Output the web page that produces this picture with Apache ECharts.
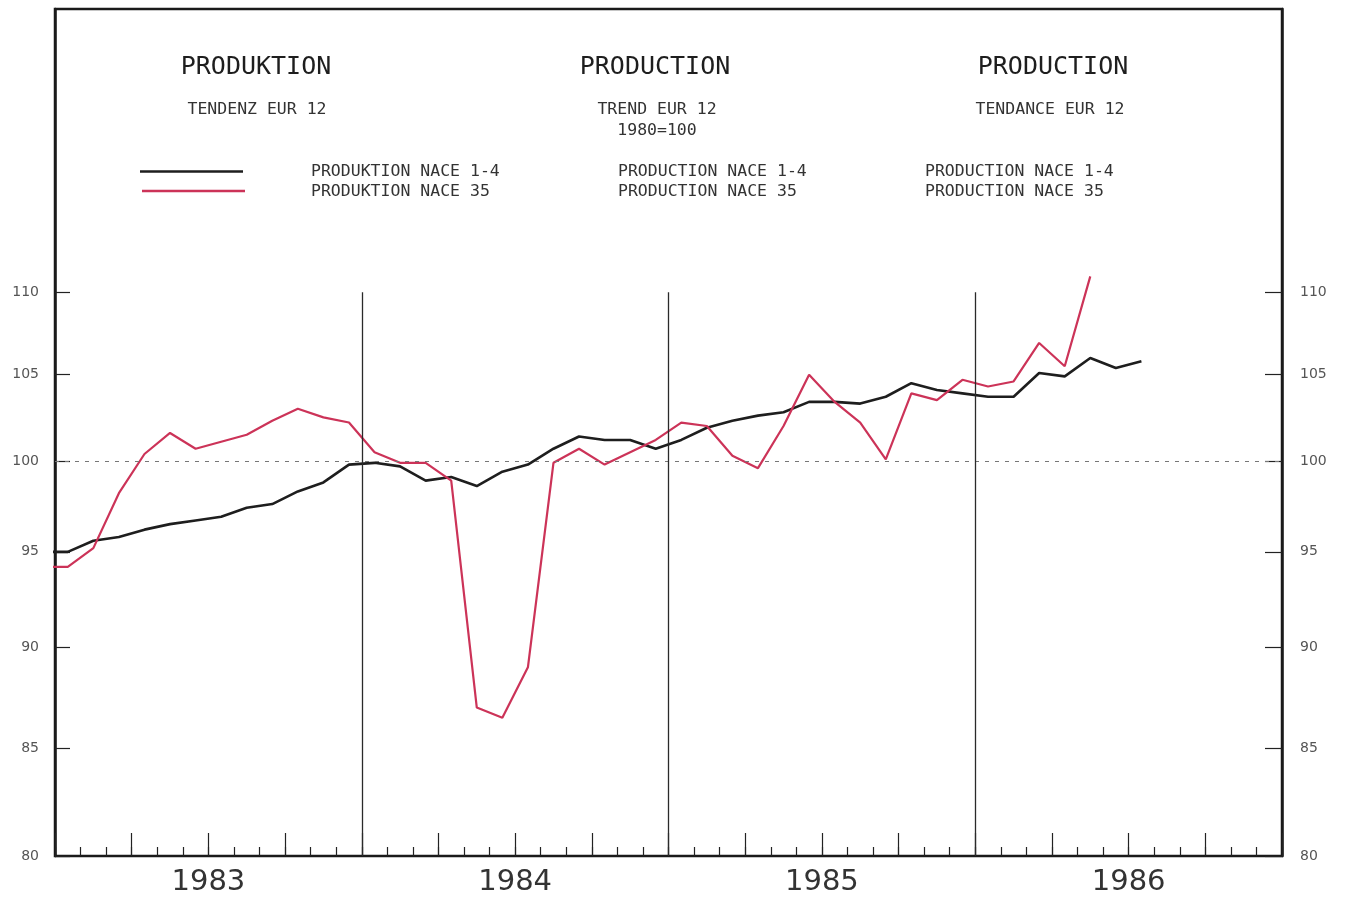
<!DOCTYPE html>
<html>
<head>
<meta charset="utf-8">
<title>Produktion / Production / Production</title>
<script src="https://cdn.jsdelivr.net/npm/echarts@6/dist/echarts.min.js"></script>
<style>
  html, body { margin: 0; padding: 0; background: #ffffff; }
  #chart { width: 1345px; height: 899px; }
</style>
</head>
<body>
<div id="chart"></div>
<script>
// Monthly observations (Dec 1982 only anchors the start of the curves at the left edge)
const months = [
  '1982-12',
  '1983-01','1983-02','1983-03','1983-04','1983-05','1983-06','1983-07','1983-08','1983-09','1983-10','1983-11','1983-12',
  '1984-01','1984-02','1984-03','1984-04','1984-05','1984-06','1984-07','1984-08','1984-09','1984-10','1984-11','1984-12',
  '1985-01','1985-02','1985-03','1985-04','1985-05','1985-06','1985-07','1985-08','1985-09','1985-10','1985-11','1985-12',
  '1986-01','1986-02','1986-03','1986-04','1986-05','1986-06','1986-07'
];

// Production NACE 1-4, trend, EUR 12, 1980 = 100
const nace14 = [
  95.0,
  95.0, 95.6, 95.8, 96.2, 96.5, 96.7, 96.9, 97.4, 97.6, 98.3, 98.8, 99.8,
  99.9, 99.7, 98.9, 99.1, 98.6, 99.4, 99.8, 100.7, 101.4, 101.2, 101.2, 100.7,
  101.2, 101.9, 102.3, 102.6, 102.8, 103.4, 103.4, 103.3, 103.7, 104.5, 104.1, 103.9,
  103.7, 103.7, 105.1, 104.9, 106.0, 105.4, 105.8
];

// Production NACE 35, trend, EUR 12, 1980 = 100
const nace35 = [
  94.2,
  94.2, 95.2, 98.2, 100.4, 101.6, 100.7, 101.1, 101.5, 102.3, 103.0, 102.5, 102.2,
  100.5, 99.9, 99.9, 98.9, 87.0, 86.5, 89.0, 99.9, 100.7, 99.8, 100.5, 101.2,
  102.2, 102.0, 100.3, 99.6, 102.0, 105.0, 103.4, 102.2, 100.1, 103.9, 103.5, 104.7,
  104.3, 104.6, 106.9, 105.5, 111.0
];

const years = ['1983', '1984', '1985', '1986'];
const yTicks = [80, 85, 90, 95, 100, 105, 110];
const yBottom = 80;
const yTop = 129.1;      // upper edge of the plotting frame
const baseLevel = 100;   // 1980 = 100

const BLACK = '#1e1e1e';
const RED = '#cc3358';
const FRAME = '#1a1a1a';
const MONO = '"DejaVu Sans Mono", "Liberation Mono", monospace';

// x position in months from Jan 1983, centred in the month
function monthPos(label) {
  const [y, m] = label.split('-').map(Number);
  return (y - Number(years[0])) * 12 + (m - 1) + 0.5;
}
// the vertical scale is logarithmic
const L = v => Math.log(v);

const blackData = nace14.map((v, i) => [monthPos(months[i]), L(v)]);
const redData = nace35.map((v, i) => [monthPos(months[i]), L(v)]);
const xEnd = years.length * 12;
const yearStarts = years.slice(1).map((y, i) => (i + 1) * 12);

function txt(text, x, y, size, align, color) {
  return {
    type: 'text', x: x, y: y, silent: true,
    style: {
      text: text, fontSize: size, fontFamily: MONO, fill: color || '#222',
      align: align, textAlign: align, verticalAlign: 'middle', textVerticalAlign: 'middle'
    }
  };
}
function legendLine(x1, x2, y, color) {
  return {
    type: 'line', silent: true,
    shape: { x1: x1, y1: y, x2: x2, y2: y },
    style: { stroke: color, lineWidth: 2.5 }
  };
}

const chart = echarts.init(document.getElementById('chart'), null, { renderer: 'canvas' });

function yAxisFor(position, tickLen, margin) {
  return {
    type: 'value',
    position: position,
    min: L(yBottom),
    max: L(yTop),
    splitLine: { show: false },
    axisLine: { show: true, onZero: false, lineStyle: { color: FRAME, width: 2.5 } },
    axisTick: {
      show: true, inside: true, length: tickLen, customValues: yTicks.map(L),
      lineStyle: { color: '#222', width: 1.2 }
    },
    axisLabel: {
      show: true, inside: false, margin: margin, customValues: yTicks.map(L),
      formatter: v => String(Math.round(Math.exp(v))),
      fontFamily: '"DejaVu Sans", sans-serif', fontSize: 14, color: '#555',
      padding: [0, 0, 7, 0]
    }
  };
}

chart.setOption({
  animation: false,
  backgroundColor: '#ffffff',
  grid: {
    left: 55, right: 63, top: 9, bottom: 43,
    show: true, borderColor: FRAME, borderWidth: 2.5, backgroundColor: 'transparent'
  },
  xAxis: [
    {
      type: 'value', min: 0, max: xEnd, interval: 1, position: 'bottom',
      axisLine: { show: false },
      axisTick: { show: true, inside: true, length: 9, lineStyle: { color: '#222', width: 1.2 } },
      axisLabel: { show: false },
      splitLine: { show: false }
    },
    {
      type: 'value', min: 0, max: xEnd, interval: 3, position: 'bottom',
      axisLine: { show: false },
      axisTick: { show: true, inside: true, length: 23, lineStyle: { color: '#222', width: 1.2 } },
      axisLabel: {
        show: true, margin: 12, interval: 0,
        formatter: v => (v % 12 === 6 ? years[(v - 6) / 12] : ''),
        fontFamily: '"DejaVu Sans", sans-serif', fontSize: 29, color: '#333'
      },
      splitLine: { show: false }
    }
  ],
  yAxis: [
    yAxisFor('left', 15, 16),
    yAxisFor('right', 17, 18)
  ],
  series: [
    {
      name: 'PRODUKTION NACE 1-4',
      type: 'line', xAxisIndex: 0, yAxisIndex: 0,
      data: blackData, showSymbol: false, symbol: 'none', clip: true,
      lineStyle: { color: BLACK, width: 2.6 },
      itemStyle: { color: BLACK },
      emphasis: { disabled: true },
      z: 3,
      markLine: {
        silent: true, symbol: ['none', 'none'], label: { show: false }, animation: false,
        precision: 10,
        data: [
          [
            { coord: [0, L(baseLevel)], lineStyle: { type: [4, 6], color: '#777', width: 1.2 } },
            { coord: [xEnd, L(baseLevel)] }
          ]
        ].concat(yearStarts.map(x => [
          { coord: [x, L(yTicks[0])], lineStyle: { type: 'solid', color: '#2a2a2a', width: 1.3 } },
          { coord: [x, L(yTicks[yTicks.length - 1])] }
        ]))
      }
    },
    {
      name: 'PRODUKTION NACE 35',
      type: 'line', xAxisIndex: 0, yAxisIndex: 0,
      data: redData, showSymbol: false, symbol: 'none', clip: true,
      lineStyle: { color: RED, width: 2.2 },
      itemStyle: { color: RED },
      emphasis: { disabled: true },
      z: 4
    }
  ],
  graphic: [
    // German block
    txt('PRODUKTION', 256, 67, 25, 'center', '#1e1e1e'),
    txt('TENDENZ EUR 12', 257, 109.5, 16.5, 'center', '#333'),
    legendLine(140, 243, 171.5, BLACK),
    legendLine(142, 245, 191, RED),
    txt('PRODUKTION NACE 1-4', 311, 171.5, 16.5, 'left', '#333'),
    txt('PRODUKTION NACE 35', 311, 192, 16.5, 'left', '#333'),
    // English block
    txt('PRODUCTION', 655, 67, 25, 'center', '#1e1e1e'),
    txt('TREND EUR 12', 657, 109.5, 16.5, 'center', '#333'),
    txt('1980=100', 657, 131, 16.5, 'center', '#333'),
    txt('PRODUCTION NACE 1-4', 618, 171.5, 16.5, 'left', '#333'),
    txt('PRODUCTION NACE 35', 618, 192, 16.5, 'left', '#333'),
    // French block
    txt('PRODUCTION', 1053, 67, 25, 'center', '#1e1e1e'),
    txt('TENDANCE EUR 12', 1050, 110, 16.5, 'center', '#333'),
    txt('PRODUCTION NACE 1-4', 925, 171.5, 16.5, 'left', '#333'),
    txt('PRODUCTION NACE 35', 925, 192, 16.5, 'left', '#333')
  ]
});
</script>
</body>
</html>
